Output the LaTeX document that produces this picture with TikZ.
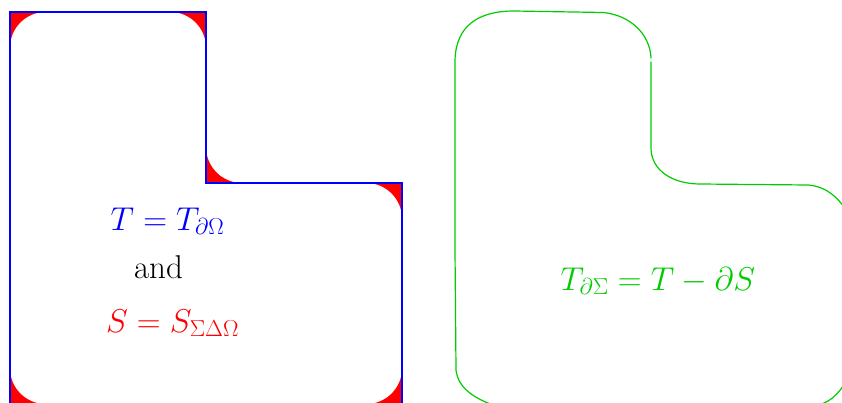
\documentclass[tikz,border=0pt]{standalone}
\usepackage{fix-cm}
\definecolor{lgreen}{rgb}{0,0.8,0}
\begin{document}
\begin{tikzpicture}[x=1pt,y=-1pt,
  lbl/.style={anchor=base,inner sep=0pt,font=\fontsize{33}{40}\selectfont}]
\useasboundingbox (0,0) rectangle (842,403);
% left L shape: symmetric difference of L and rounded L in red
\fill[red] (10,12) -- (206,12) -- (206,183) -- (402,183) -- (402,404) -- (10,404) -- cycle;
\fill[red,rounded corners=36pt] (108,12) -- (206,12) -- (206,183) -- (402,183) -- (402,404) -- (10,404) -- (10,12) -- cycle;
\begin{scope}
  \clip (10,12) -- (206,12) -- (206,183) -- (402,183) -- (402,404) -- (10,404) -- cycle;
  \fill[white,rounded corners=36pt] (108,12) -- (206,12) -- (206,183) -- (402,183) -- (402,404) -- (10,404) -- (10,12) -- cycle;
\end{scope}
\draw[blue,line width=1.2pt] (10,12) -- (206,12) -- (206,183) -- (402,183) -- (402,404) -- (10,404) -- cycle;
\node[lbl,text=blue] (t1) at (167.5,230) {$T = T_{\partial\Omega}$};
\node[lbl] (t2) at (158.5,278) {and};
\node[lbl,text=red] (t3) at (172.5,332) {$S = S_{\Sigma\Delta\Omega}$};
% right green shape
\draw[lgreen,line width=1.2pt,line cap=round]
  (651,62) -- (651,148)
  .. controls (651,170) and (672,184) .. (700,184)
  -- (808,185)
  .. controls (824,186) and (838,196) .. (847,212)
  -- (848,378)
  .. controls (838,396) and (828,404) .. (813,406)
  -- (493,405)
  .. controls (474,398) and (458,388) .. (456,370)
  -- (455,250) -- (455,60)
  .. controls (456,26) and (478,11) .. (514,11)
  -- (603,12.5)
  .. controls (630,15) and (650,34) .. (651,58);
\node[lbl,text=lgreen] (t4) at (658,290) {$T_{\partial\Sigma} = T - \partial S$};
\end{tikzpicture}
\end{document}
